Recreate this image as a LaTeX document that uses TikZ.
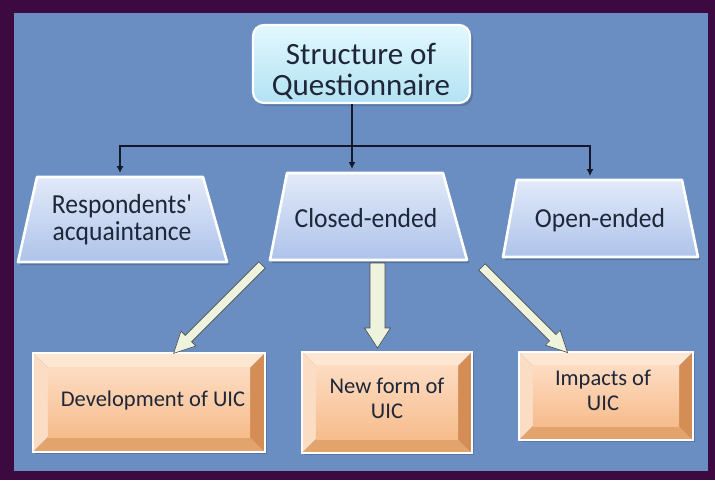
\documentclass[tikz,border=0pt]{standalone}
\usepackage{fontspec}
\setmainfont{Carlito}
\newfontfamily\narrowfont[FakeStretch=0.93]{Carlito}
\usetikzlibrary{calc,arrows.meta}
\definecolor{bgblue}{HTML}{6A8EC2}
\definecolor{frame}{HTML}{3C0A40}
\definecolor{txt}{HTML}{1E2638}
\definecolor{topA}{HTML}{E2F8FD}
\definecolor{topB}{HTML}{B2E2F3}
\definecolor{trapA}{HTML}{E2EAF9}
\definecolor{trapB}{HTML}{AEC3EA}
\definecolor{faceA}{HTML}{FDDCC2}
\definecolor{faceB}{HTML}{F6BC8C}
\definecolor{bevT}{HTML}{FDE6D2}
\definecolor{bevL}{HTML}{FBDDC4}
\definecolor{bevR}{HTML}{D48E55}
\definecolor{bevB}{HTML}{E3A36C}
\definecolor{arrfill}{HTML}{EEF3DE}
\definecolor{arrline}{HTML}{4A4A4A}
\definecolor{conncol}{HTML}{14182A}
\newcommand\bevelbox[2]{%
  \fill[black, opacity=0.15] ($(#1.north west)+(2,2)$) rectangle ($(#1.south east)+(2,2)$);
  \fill[bevT] (#1.north west) -- (#1.north east) -- ($(#1.north east)+(-#2,#2)$) -- ($(#1.north west)+(#2,#2)$) -- cycle;
  \fill[bevL] (#1.north west) -- ($(#1.north west)+(#2,#2)$) -- ($(#1.south west)+(#2,-#2)$) -- (#1.south west) -- cycle;
  \fill[bevR] (#1.north east) -- ($(#1.north east)+(-#2,#2)$) -- ($(#1.south east)+(-#2,-#2)$) -- (#1.south east) -- cycle;
  \fill[bevB] (#1.south west) -- ($(#1.south west)+(#2,-#2)$) -- ($(#1.south east)+(-#2,-#2)$) -- (#1.south east) -- cycle;
  \shade[top color=faceA, bottom color=faceB] ($(#1.north west)+(#2,#2)$) rectangle ($(#1.south east)+(-#2,-#2)$);
  \draw[white, line width=2.2pt] (#1.north west) rectangle (#1.south east);
}
\newcommand\trapbox[4]{% TL, TR, BR, BL
  \fill[black, opacity=0.18] ($(#1)+(2,3)$) -- ($(#2)+(2,3)$) -- ($(#3)+(2,3)$) -- ($(#4)+(2,3)$) -- cycle;
  \shade[top color=trapA, bottom color=trapB] (#1) -- (#2) -- (#3) -- (#4) -- cycle;
  \draw[white, line width=2.6pt, line join=round] (#1) -- (#2) -- (#3) -- (#4) -- cycle;
}
\newcommand\blockarrow[6]{% start, angle, length, half shaft, half head, head length
  \begin{scope}[shift={(#1)}, rotate=#2]
    \draw[barrow] (0,-#4) -- ({#3-#6},-#4) -- ({#3-#6},-#5) -- (#3,0) -- ({#3-#6},#5) -- ({#3-#6},#4) -- (0,#4) -- cycle;
  \end{scope}}
\tikzset{
  conn/.style={draw=conncol, line width=1.1pt, -{Latex[length=7pt,width=7pt]}, shorten >=4pt},
  topbox/.style={rectangle, rounded corners=11pt, draw=white, line width=2.2pt, top color=topA, bottom color=topB},
  toptext/.style={text=txt, align=center, inner sep=0pt, font=\fontsize{31}{31}\selectfont},
  traptext/.style={text=txt, align=center, inner sep=0pt, font=\narrowfont\fontsize{27.5}{27}\selectfont},
  bev/.style={rectangle, inner sep=0pt},
  bevtext/.style={text=txt, align=center, inner sep=0pt, font=\fontsize{22.5}{25}\selectfont},
  barrow/.style={draw=arrline, line width=0.6pt, fill=arrfill, line join=miter},
}
\begin{document}
\begin{tikzpicture}[x=1pt,y=-1pt]
\useasboundingbox (0,0) rectangle (715,480);
\fill[frame] (0,0) rectangle (715,480);
\fill[bgblue] (14,13) rectangle (708,471);

% top node
\fill[black, opacity=0.15, rounded corners=11pt] (255,28) rectangle (473,106);
\node[topbox, minimum width=217pt, minimum height=78pt] (top) at (361.5,64) {};
\node[toptext] (toptxt) at (361,71) {Structure of\\Questionnaire};

% trapezia
\trapbox{37,177}{203,177}{227,262}{18,262}
\node[traptext] (resp) at (122,220) {Respondents'\\acquaintance};
\coordinate (respN) at (120,177);
\trapbox{287,173}{443,173}{467,260}{270,260}
\node[traptext] (closed) at (366,218.5) {Closed-ended};
\coordinate (closedN) at (352,173);
\trapbox{517,180}{682,180}{698,257}{503,257}
\node[traptext] (open) at (600,220) {Open-ended};
\coordinate (openN) at (590,180);

% connectors
\coordinate (bus) at (352,146);
\draw[conn] (top.south -| bus) -- (closedN);
\draw[conn] (bus) -| (respN);
\draw[conn] (bus) -| (openN);

% bevel boxes
\node[bev, minimum width=232pt, minimum height=99pt] (dev) at (149,402.5) {};
\bevelbox{dev}{15}
\node[bevtext] (devt) at (153,400) {Development of UIC};

\node[bev, minimum width=170pt, minimum height=101pt] (new) at (387,402.5) {};
\bevelbox{new}{14}
\node[bevtext] (newt) at (387,398) {New form of\\UIC};

\node[bev, minimum width=174pt, minimum height=88pt] (imp) at (606,396) {};
\bevelbox{imp}{14}
\node[bevtext] (impt) at (603,390) {Impacts of\\UIC};

% block arrows
\coordinate (a1s) at (262,265);
\coordinate (a2s) at (377.5,263);
\coordinate (a3s) at (482,267);
\blockarrow{a1s}{225}{125}{4.5}{10.5}{21}
\blockarrow{a2s}{270}{85}{7.5}{13}{20}
\blockarrow{a3s}{315}{121}{4.5}{10.5}{21}
\end{tikzpicture}
\end{document}
